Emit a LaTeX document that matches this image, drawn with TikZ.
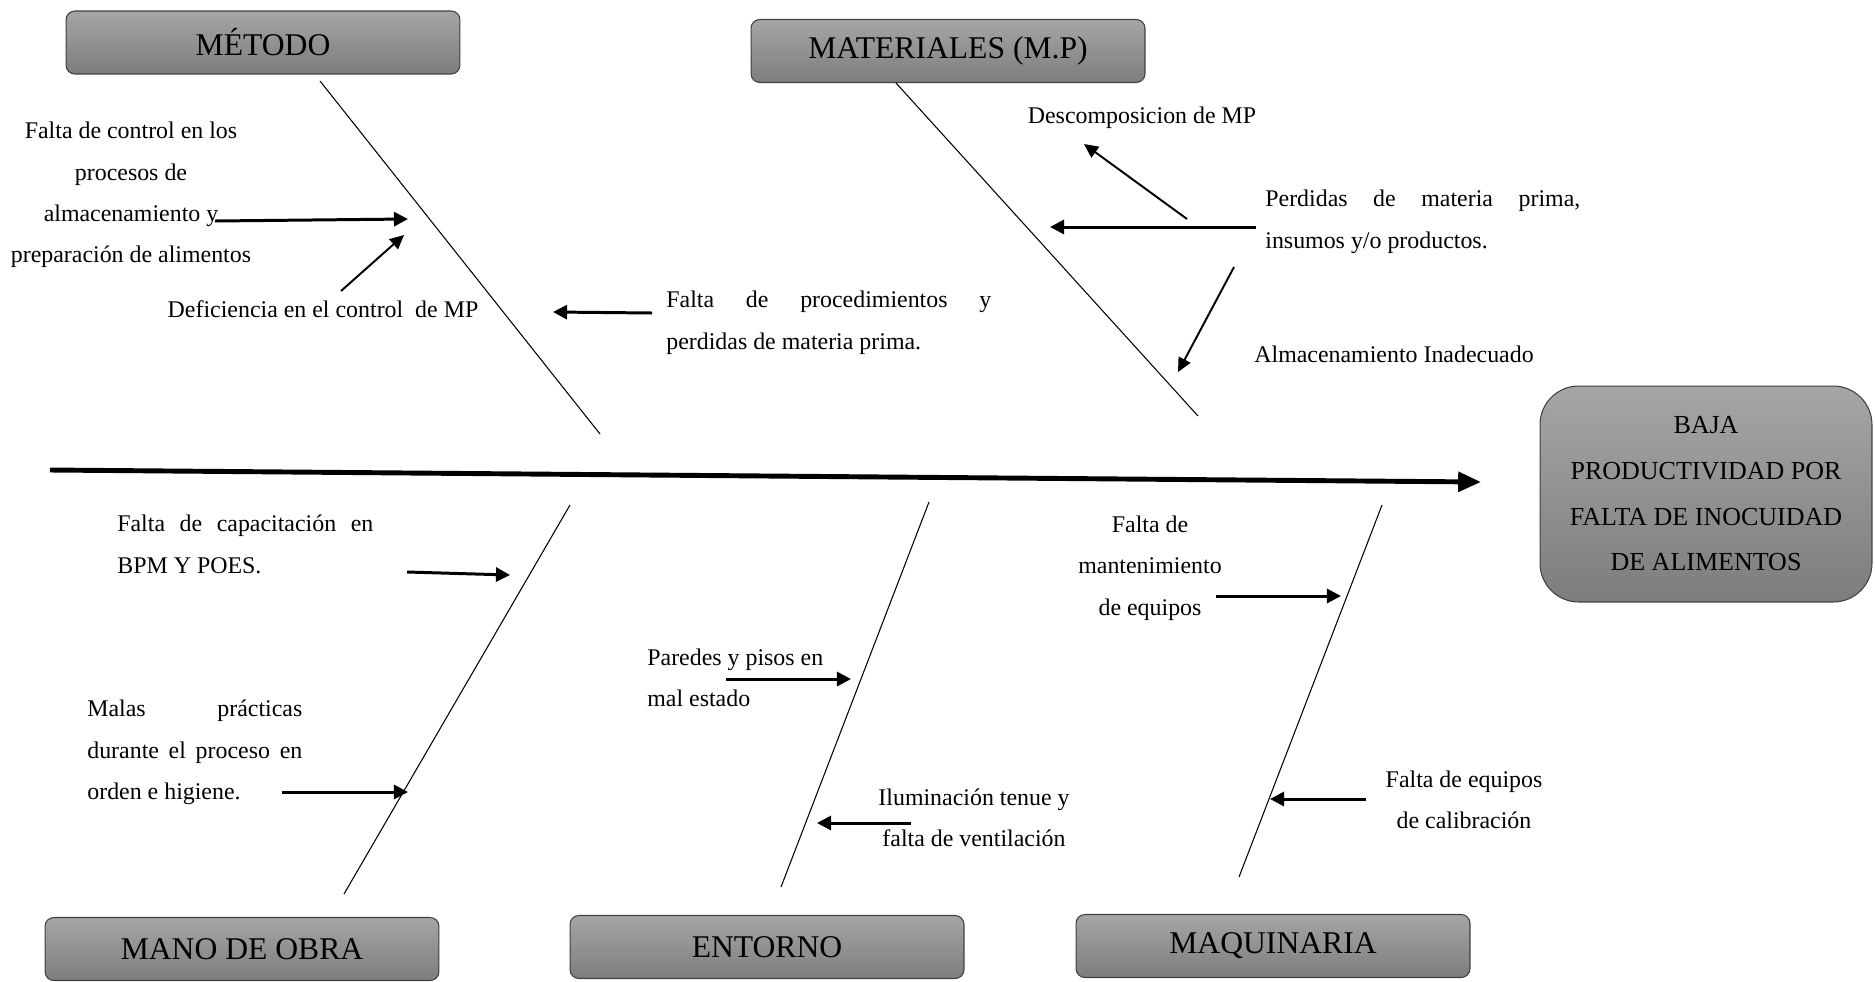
\documentclass[tikz,border=0pt]{standalone}
\usepackage{fontspec}
\setmainfont{Liberation Serif}
\usetikzlibrary{arrows.meta}

% no hyphenation inside the justified cause texts
\hyphenpenalty=10000
\exhyphenpenalty=10000
\tolerance=10000
\hbadness=10000
\adjdemerits=0

\tikzset{
  catbox/.style={draw=black!75, line width=0.6pt, rounded corners=5pt,
    top color=black!35, bottom color=black!51,
    minimum width=7.88cm, minimum height=1.26cm, inner sep=0pt,
    font=\fontsize{18}{21}\selectfont},
  effectbox/.style={draw=black!75, line width=0.6pt, rounded corners=22pt,
    top color=black!35, bottom color=black!51,
    minimum width=6.64cm, minimum height=4.32cm, inner sep=0pt, align=center,
    font=\fontsize{14.8}{26}\selectfont},
  bone/.style={line width=0.6pt},
  spine/.style={line width=2.8pt, -{Triangle[length=13pt,width=11pt]}},
  bigarrow/.style={line width=1.7pt, -{Triangle[length=8pt,width=8pt]}},
  thinarrow/.style={line width=1.1pt, -{Triangle[length=8pt,width=7.5pt]}},
  cause/.style={font=\fontsize{13.6}{23.6}\selectfont, inner sep=0pt},
}

\begin{document}
\begin{tikzpicture}[x=0.02cm, y=-0.02cm]
\useasboundingbox (0,0) rectangle (1875,981);

% category boxes
\node[catbox] (metodo) at (263,42.5) {MÉTODO};
\node[catbox] (materiales) at (948,51) {MATERIALES (M.P)};
\node[catbox] (mano) at (242,949) {MANO DE OBRA};
\node[catbox] (entorno) at (767,947) {ENTORNO};
\node[catbox] (maquinaria) at (1273,946) {MAQUINARIA};

% effect box
\node[effectbox] (efecto) at (1706,494)
  {BAJA\\PRODUCTIVIDAD POR\\FALTA DE INOCUIDAD\\DE ALIMENTOS};

% spine
\coordinate (spineS) at (50,470);
\coordinate (spineE) at (1481,482);
\draw[spine] (spineS) -- (spineE);

% bones
\coordinate (b1a) at (320,81);   \coordinate (b1b) at (600,434);
\coordinate (b2a) at (896,83);   \coordinate (b2b) at (1198,416);
\coordinate (b3a) at (570,505);  \coordinate (b3b) at (344,894);
\coordinate (b4a) at (929,502);  \coordinate (b4b) at (781,887);
\coordinate (b5a) at (1382,505); \coordinate (b5b) at (1239,877);
\draw[bone] (b1a) -- (b1b);
\draw[bone] (b2a) -- (b2b);
\draw[bone] (b3a) -- (b3b);
\draw[bone] (b4a) -- (b4b);
\draw[bone] (b5a) -- (b5b);

% causes: método
\node[cause, align=center] (t1) at (131,195)
  {Falta de control en los\\procesos de\\almacenamiento y\\preparación de alimentos};
\node[cause] (t2) at (323,309) {Deficiencia en el control\ \ de MP};
\node[cause, text width=6.5cm, align=justify, anchor=north west] (t3) at (666,291)
  {Falta de procedimientos y perdidas de materia prima.};

% causes: materiales
\node[cause] (t4) at (1142,118) {Descomposicion de MP};
\node[cause, text width=6.3cm, align=justify, anchor=north west] (t5) at (1265,190)
  {Perdidas de materia prima, insumos y/o productos.};
\node[cause] (t6) at (1394,354) {Almacenamiento Inadecuado};

% causes: mano de obra
\node[cause, text width=5.12cm, align=justify, anchor=north west] (t7) at (117,515)
  {Falta de capacitación en BPM Y POES.};
\node[cause, text width=4.3cm, align=justify, anchor=north west] (t8) at (87,700)
  {Malas prácticas durante el proceso en orden e higiene.};

% causes: entorno
\node[cause, align=left, anchor=west] (t9) at (647,678) {Paredes y pisos en\\mal estado};
\node[cause, align=center] (t10) at (974,818) {Iluminación tenue y\\falta de ventilación};

% causes: maquinaria
\node[cause, align=center] (t11) at (1150,568) {Falta de\\mantenimiento\\de equipos};
\node[cause, align=center] (t12) at (1464,800) {Falta de equipos\\de calibración};

% cause arrows
\coordinate (a1s) at (215,221);  \coordinate (a1e) at (408,219);
\coordinate (a2s) at (341,291);  \coordinate (a2e) at (404,235);
\coordinate (a3s) at (652,313);  \coordinate (a3e) at (553,312);
\coordinate (a4s) at (1187,219); \coordinate (a4e) at (1084,144);
\coordinate (a5s) at (1256,227); \coordinate (a5e) at (1050,227);
\coordinate (a6s) at (1234,267); \coordinate (a6e) at (1178,372);
\coordinate (a7s) at (407,572);  \coordinate (a7e) at (510,575);
\coordinate (a8s) at (282,792);  \coordinate (a8e) at (408,792);
\coordinate (a9s) at (726,679);  \coordinate (a9e) at (851,679);
\coordinate (a10s) at (911,823); \coordinate (a10e) at (817,823);
\coordinate (a11s) at (1216,596); \coordinate (a11e) at (1341,596);
\coordinate (a12s) at (1366,799); \coordinate (a12e) at (1270,799);

\draw[bigarrow] (a1s) -- (a1e);
\draw[thinarrow] (a2s) -- (a2e);
\draw[bigarrow] (a3s) -- (a3e);
\draw[thinarrow] (a4s) -- (a4e);
\draw[bigarrow] (a5s) -- (a5e);
\draw[thinarrow] (a6s) -- (a6e);
\draw[bigarrow] (a7s) -- (a7e);
\draw[bigarrow] (a8s) -- (a8e);
\draw[bigarrow] (a9s) -- (a9e);
\draw[bigarrow] (a10s) -- (a10e);
\draw[bigarrow] (a11s) -- (a11e);
\draw[bigarrow] (a12s) -- (a12e);
\end{tikzpicture}
\end{document}
